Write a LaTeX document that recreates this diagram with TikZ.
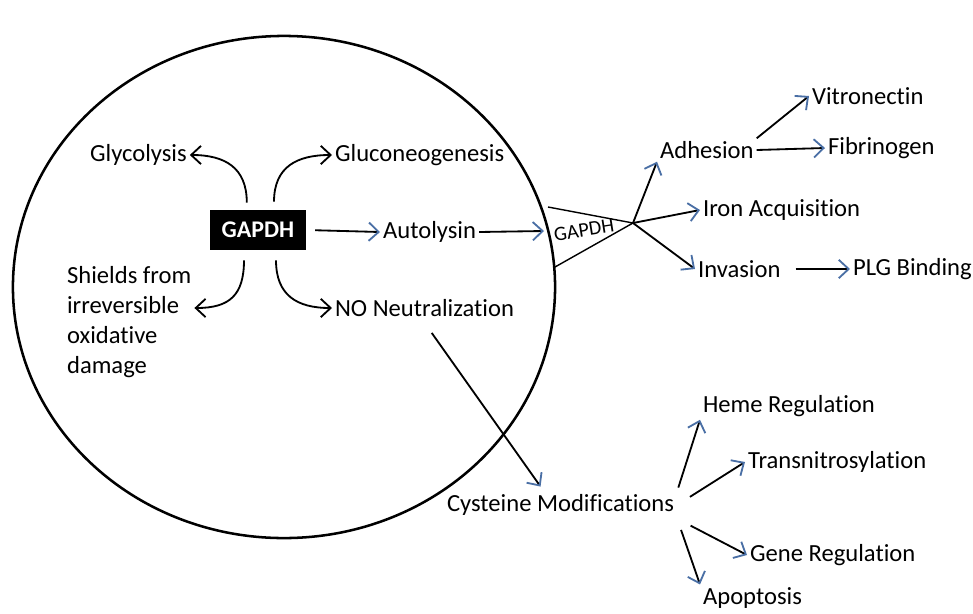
\documentclass[tikz,border=0pt]{standalone}
\usepackage{fontspec}
\setmainfont[Ligatures=NoCommon]{Carlito}
\usetikzlibrary{arrows.meta,positioning}
\definecolor{TipBlue}{HTML}{4A6FA5}

\begin{document}
\begin{tikzpicture}[
    x=0.025cm, y=-0.025cm,
    every node/.style={font=\fontsize{17.5}{21.3}\selectfont},
    lbl/.style={anchor=west, inner sep=2pt},
    blk/.style={-{Straight Barb[length=7pt,width=13pt]}, line width=1.3pt},
    blu/.style={-{Straight Barb[length=7pt,width=13pt,color=TipBlue]}, line width=1.3pt},
    gbox/.style={fill=black, text=white, font=\fontsize{17}{20}\selectfont\bfseries, minimum width=2.4cm, minimum height=1cm, inner sep=0pt}
]
\useasboundingbox (0,0) rectangle (973,613);
% the cell
\draw[line width=1.8pt] (284,287) ellipse [x radius=6.775cm, y radius=6.275cm];

% inside
\node[gbox] (gapdh) at (258,230) {GAPDH};
\node[lbl] (gly) at (87,155) {Glycolysis};
\node[lbl] (glu) at (332,155) {Gluconeogenesis};
\node[lbl] (auto) at (380,232) {Autolysin};
\node[lbl, align=left] (shd) at (64,322) {Shields from\\irreversible\\oxidative\\damage};
\node[lbl] (no) at (332,308) {NO Neutralization};

\draw[blk] ([xshift=-0.28cm,yshift=0.18cm]gapdh.north) .. controls +(0,-35) and +(35,0) .. (gly.east);
\draw[blk] ([xshift=0.4cm,yshift=0.2cm]gapdh.north) .. controls +(0,-35) and +(-35,0) .. (glu.west);
\draw[blk] ([xshift=-0.35cm,yshift=-0.25cm]gapdh.south) .. controls +(0,35) and +(35,0) .. ([yshift=0.35cm]shd.east);
\draw[blk] ([xshift=0.45cm,yshift=-0.25cm]gapdh.south) .. controls +(0,35) and +(-35,0) .. (no.west);
\draw[blu, shorten <=0.22cm] (gapdh.east) -- (auto.west);

% surface GAPDH
\coordinate (ta) at (548,207);
\coordinate (tb) at (555,267);
\coordinate (apex) at (633,223);
\coordinate (tin) at (544,231);
\draw[line width=1pt] (ta) -- (apex) -- (tb);
\node[rotate=9, inner sep=0pt, font=\fontsize{14.5}{17}\selectfont] (tlab) at (584,230) {GAPDH};
\draw[blu] (auto.east) -- (tin);

% outside
\node[lbl] (adh) at (657,150) {Adhesion};
\node[lbl] (vit) at (809,96) {Vitronectin};
\node[lbl] (fib) at (825,148) {Fibrinogen};
\node[lbl] (iron) at (700,210) {Iron Acquisition};
\node[lbl] (inv) at (695,269) {Invasion};
\node[lbl] (plg) at (850,269) {PLG Binding};

\draw[blu] (apex) -- (adh.south west);
\draw[blu] (apex) -- (iron.west);
\draw[blu] (apex) -- (inv.west);
\draw[blu] (adh.north east) -- (vit.west);
\draw[blu] (adh.east) -- (fib.west);
\draw[blu, shorten <=0.3cm] (inv.east) -- (plg.west);

\node[lbl] (cys) at (444,505) {Cysteine Modifications};
\node[lbl] (heme) at (700,406) {Heme Regulation};
\node[lbl] (trans) at (745,462) {Transnitrosylation};
\node[lbl] (gene) at (747,555) {Gene Regulation};
\node[lbl] (apo) at (700,598) {Apoptosis};

\draw[blu] ([xshift=0.18cm,yshift=-0.33cm]no.south) -- ([xshift=-0.5cm,yshift=0.12cm]cys.north);
\draw[blu, shorten <=0.1cm] (cys.north east) -- (heme.south west);
\draw[blu, shorten <=0.38cm] (cys.east) -- (trans.west);
\draw[blu, shorten <=0.38cm] (cys.south east) -- (gene.west);
\draw[blu, shorten <=0.3cm] (cys.south east) -- (apo.north west);
\end{tikzpicture}
\end{document}
